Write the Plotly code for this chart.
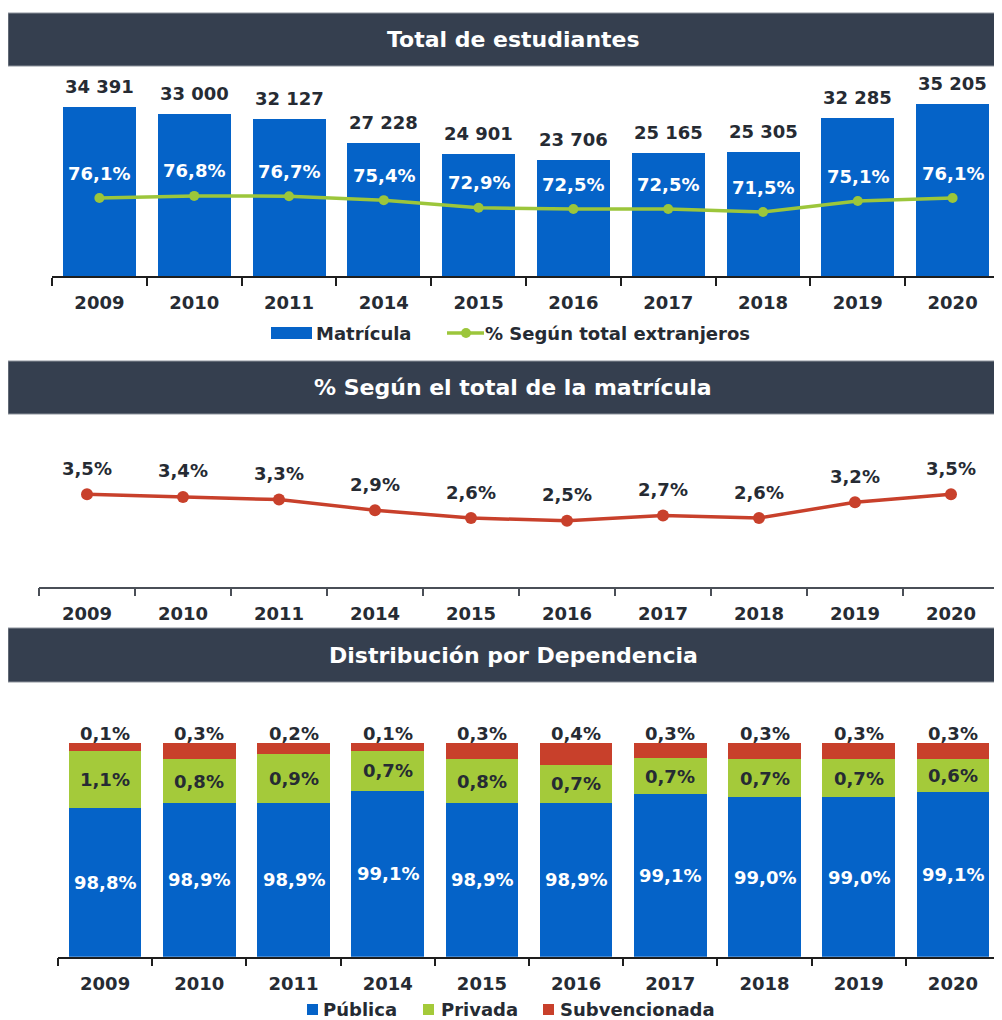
import plotly.graph_objects as go

# ---------------- data ----------------
years = ["2009", "2010", "2011", "2014", "2015", "2016", "2017", "2018", "2019", "2020"]
matricula = [34391, 33000, 32127, 27228, 24901, 23706, 25165, 25305, 32285, 35205]
pct_extranjeros = [76.1, 76.8, 76.7, 75.4, 72.9, 72.5, 72.5, 71.5, 75.1, 76.1]
pct_matricula = [3.5, 3.4, 3.3, 2.9, 2.6, 2.5, 2.7, 2.6, 3.2, 3.5]
publica = [98.8, 98.9, 98.9, 99.12, 98.9, 98.9, 99.06, 99.0, 99.0, 99.1]
privada = [1.06, 0.8, 0.9, 0.74, 0.8, 0.7, 0.66, 0.7, 0.7, 0.6]
subvencionada = [0.14, 0.3, 0.2, 0.14, 0.3, 0.4, 0.28, 0.3, 0.3, 0.3]

titles = ["Total de estudiantes", "% Según el total de la matrícula", "Distribución por Dependencia"]

# ---------------- style ----------------
OFF = 8                      # page body margin
FW, FH = 1002 - OFF, 1020 - OFF
FONT = "DejaVu Sans"
DARK = "#262b33"
BLUE = "#0563c8"
GREEN_LINE = "#9cc63b"
GREEN_BAR = "#a4ca3a"
RED = "#c8402b"
HEADER = "#353f4f"
AXIS = "#1e1e1e"


def px(x):
    return (x - OFF) / FW


def py(y):
    return 1 - (y - OFF) / FH


def fmt_int(v):
    return f"{v:,}".replace(",", " ")


def fmt_pct(v):
    return f"{v:.1f}%".replace(".", ",")


fig = go.Figure()

# ---- panel 1 ----
fig.add_trace(go.Bar(x=years, y=matricula, marker=dict(color=BLUE, line=dict(width=0)),
                     xaxis="x", yaxis="y", showlegend=False, hoverinfo="skip"))
fig.add_trace(go.Scatter(x=years, y=pct_extranjeros, mode="lines+markers",
                         line=dict(color=GREEN_LINE, width=3.5),
                         marker=dict(size=10, color=GREEN_LINE),
                         xaxis="x", yaxis="y2", showlegend=False, hoverinfo="skip"))

# ---- panel 2 ----
fig.add_trace(go.Scatter(x=years, y=pct_matricula, mode="lines+markers",
                         line=dict(color=RED, width=3.5),
                         marker=dict(size=12, color=RED),
                         xaxis="x2", yaxis="y3", showlegend=False, hoverinfo="skip",
                         cliponaxis=False))

# ---- panel 3 ----
for vals, col in [(publica, BLUE), (privada, GREEN_BAR), (subvencionada, RED)]:
    fig.add_trace(go.Bar(x=years, y=vals, marker=dict(color=col, line=dict(width=0)),
                         xaxis="x3", yaxis="y4", showlegend=False, hoverinfo="skip"))

tickfont = dict(family=FONT, size=18, color=DARK, weight="bold")
n = len(years)
bounds = [i - 0.5 for i in range(n + 1)]


def cat_axis(domain, anchor, linecolor=AXIS):
    return dict(domain=domain, anchor=anchor, type="category", categoryorder="array",
                categoryarray=years, range=[-0.5, n - 0.5],
                tickson="boundaries", ticks="outside", ticklen=8, tickwidth=1.5,
                tickcolor=linecolor, showline=True, linecolor=linecolor, linewidth=1.5,
                showgrid=False, zeroline=False, tickfont=tickfont, ticklabelstandoff=10,
                fixedrange=True)


def over_axis(over, anchor, linecolor=AXIS):
    return dict(overlaying=over, anchor=anchor, type="linear", range=[-0.5, n - 0.5],
                tickmode="array", tickvals=bounds, ticks="inside", ticklen=6, tickwidth=1.5,
                tickcolor=linecolor, showticklabels=False, showline=False, showgrid=False,
                zeroline=False, fixedrange=True)


hidden = dict(visible=False, showgrid=False, zeroline=False, fixedrange=True)

YMIN3 = 96.05
PX_PER_PT3 = 54.03           # vertical scale of panel 3 (pixels per percentage point)

fig.update_layout(
    width=FW, height=FH, autosize=False,
    margin=dict(l=0, r=0, t=0, b=0),
    paper_bgcolor="white", plot_bgcolor="rgba(0,0,0,0)",
    barmode="stack", bargap=0.23,
    font=dict(family=FONT, color=DARK),
    xaxis=cat_axis([px(52), px(1000)], "y"),
    xaxis4=over_axis("x", "y"),
    yaxis=dict(domain=[py(276), py(80)], range=[0, 40000], anchor="x", **hidden),
    yaxis2=dict(overlaying="y", range=[50.53, 114.8], anchor="x", **hidden),
    xaxis2=cat_axis([px(39), px(999)], "y3", "#4a4f57"),
    xaxis5=over_axis("x2", "y3", "#4a4f57"),
    yaxis3=dict(domain=[py(586.7), py(467.9)], range=[0, 4.5], anchor="x2", **hidden),
    xaxis3=cat_axis([px(58), px(1000)], "y4"),
    xaxis6=over_axis("x3", "y4"),
    yaxis4=dict(domain=[py(956.7), py(956.7 - (101 - YMIN3) * PX_PER_PT3)],
                range=[YMIN3, 101], anchor="x3", **hidden),
)

shapes = []
annotations = []

# headers
for (y0, y1), t in zip([(13, 66), (361, 414), (628, 682)], titles):
    shapes.append(dict(type="rect", xref="paper", yref="paper", x0=px(8), x1=px(1003),
                       y0=py(y1), y1=py(y0), fillcolor=HEADER,
                       line=dict(color="#8d939c", width=1), layer="below"))
    annotations.append(dict(xref="paper", yref="paper", x=px(513), y=py((y0 + y1) / 2),
                            text=t, showarrow=False, xanchor="center", yanchor="middle",
                            font=dict(family=FONT, size=22, color="white", weight="bold")))

lab = dict(family=FONT, size=18, color=DARK, weight="bold")
labw = dict(family=FONT, size=18, color="white", weight="bold")

# panel 1 labels (x given as category index)
for i, (v, p) in enumerate(zip(matricula, pct_extranjeros)):
    annotations.append(dict(x=i, y=v, xref="x", yref="y", text=fmt_int(v), showarrow=False,
                            yanchor="bottom", yshift=8, font=lab))
    annotations.append(dict(x=i, y=p, xref="x", yref="y2", text=fmt_pct(p), showarrow=False,
                            yanchor="middle", yshift=25, font=labw))

# panel 2 labels
for i, p in enumerate(pct_matricula):
    annotations.append(dict(x=i, y=p, xref="x2", yref="y3", text=fmt_pct(p), showarrow=False,
                            yanchor="middle", yshift=26, font=lab))

# panel 3 labels
for i, (pu, pr, su) in enumerate(zip(publica, privada, subvencionada)):
    annotations.append(dict(x=i, y=(YMIN3 + pu) / 2, xref="x3", yref="y4", text=fmt_pct(pu),
                            showarrow=False, yanchor="middle", font=labw))
    annotations.append(dict(x=i, y=pu + pr / 2, xref="x3", yref="y4", text=fmt_pct(pr),
                            showarrow=False, yanchor="middle", font=lab))
    annotations.append(dict(x=i, y=pu + pr + su, xref="x3", yref="y4", text=fmt_pct(su),
                            showarrow=False, yanchor="bottom", yshift=-3, font=lab))

# legend panel 1
leg = dict(family=FONT, size=18, color=DARK, weight="bold")
shapes.append(dict(type="rect", xref="paper", yref="paper", x0=px(271), x1=px(312),
                   y0=py(339), y1=py(327), fillcolor=BLUE, line=dict(width=0)))
annotations.append(dict(xref="paper", yref="paper", x=px(314), y=py(333), text="Matrícula",
                        showarrow=False, xanchor="left", yanchor="middle", font=leg))
shapes.append(dict(type="line", xref="paper", yref="paper", x0=px(447), x1=px(484),
                   y0=py(333), y1=py(333), line=dict(color=GREEN_LINE, width=3.5)))
shapes.append(dict(type="circle", xref="paper", yref="paper", x0=px(461), x1=px(471),
                   y0=py(338), y1=py(328), fillcolor=GREEN_LINE, line=dict(width=0)))
annotations.append(dict(xref="paper", yref="paper", x=px(483), y=py(333),
                        text="% Según total extranjeros", showarrow=False, xanchor="left",
                        yanchor="middle", font=leg))

# legend panel 3
for x0, col, name, tx in [(307, BLUE, "Pública", 321), (423, GREEN_BAR, "Privada", 439),
                          (543, RED, "Subvencionada", 558)]:
    shapes.append(dict(type="rect", xref="paper", yref="paper", x0=px(x0), x1=px(x0 + 11),
                       y0=py(1015), y1=py(1004), fillcolor=col, line=dict(width=0)))
    annotations.append(dict(xref="paper", yref="paper", x=px(tx), y=py(1009), text=name,
                            showarrow=False, xanchor="left", yanchor="middle", font=leg))

fig.update_layout(shapes=shapes, annotations=annotations)
fig.write_html("out.html")
